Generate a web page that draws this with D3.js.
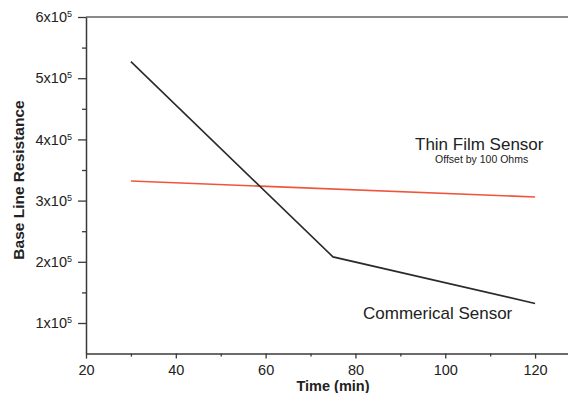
<!DOCTYPE html>
<html>
<head>
<meta charset="utf-8">
<script src="https://cdn.jsdelivr.net/npm/d3@7"></script>
<style>
  body { margin: 0; background: #fff; }
  svg { display: block; font-family: "Liberation Sans", Arial, sans-serif; }
  .axis .domain { stroke: #3a3a3a; stroke-width: 1.5px; }
  .axis line { stroke: #3a3a3a; stroke-width: 1.3px; }
  .axis text { fill: #222; font-size: 14.5px; }
</style>
</head>
<body>
<div id="chart"></div>
<script>
// data
const commercialTime = [30, 75, 120];
const commercialOhms = [5.27e5, 2.08e5, 1.32e5];
const thinFilmTime = [30, 120];
const thinFilmOhms = [3.32e5, 3.06e5];

const xTicks = [20, 40, 60, 80, 100, 120];
const xMinor = [30, 50, 70, 90, 110];
const yTicks = [1e5, 2e5, 3e5, 4e5, 5e5, 6e5];
const yMinor = [1.5e5, 2.5e5, 3.5e5, 4.5e5, 5.5e5];

const W = 568, H = 393;

// plot box: left edge at x=87, bottom at y=353, top at y=17 (right side runs off the image)
let x = d3.scaleLinear().domain([20, 128]).range([86, 571]);
let y = d3.scaleLinear().domain([0.5e5, 6e5]).range([353.6, 17]);

let svg = d3.select("#chart").append("svg")
  .attr("width", W)
  .attr("height", H);

// top frame line
svg.append("line")
  .attr("x1", x(20)).attr("x2", W)
  .attr("y1", y(6e5)).attr("y2", y(6e5))
  .attr("stroke", "#8a8a8a")
  .attr("stroke-width", 1.8);

// minor ticks first so major axis draws over them
svg.append("g")
  .attr("class", "axis")
  .attr("transform", "translate(0," + y(0.5e5) + ")")
  .call(d3.axisBottom(x).tickValues(xMinor).tickSize(3).tickFormat(""))
  .select(".domain").remove();

svg.append("g")
  .attr("class", "axis")
  .attr("transform", "translate(" + x(20) + ",0)")
  .call(d3.axisLeft(y).tickValues(yMinor).tickSize(4).tickFormat(""))
  .select(".domain").remove();

let xAxis = svg.append("g")
  .attr("class", "axis")
  .attr("transform", "translate(0," + y(0.5e5) + ")")
  .call(d3.axisBottom(x).tickValues(xTicks).tickSize(5).tickSizeOuter(0).tickPadding(6));

let yAxis = svg.append("g")
  .attr("class", "axis")
  .attr("transform", "translate(" + x(20) + ",0)")
  .call(d3.axisLeft(y).tickValues(yTicks).tickSize(8).tickSizeOuter(0).tickPadding(6));

// "Nx10^5" labels with superscript
yAxis.selectAll(".tick text")
  .text(null)
  .each(function (d) {
    let t = d3.select(this);
    t.append("tspan").text((d / 1e5) + "x10");
    t.append("tspan").attr("font-size", "9px").attr("dy", "-0.55em").text("5");
  });

// series
let line = d3.line()
  .x(d => x(d[0]))
  .y(d => y(d[1]));

svg.append("path")
  .datum(thinFilmTime.map((t, i) => [t, thinFilmOhms[i]]))
  .attr("fill", "none")
  .attr("stroke", "#f0553a")
  .attr("stroke-width", 1.6)
  .attr("d", line);

svg.append("path")
  .datum(commercialTime.map((t, i) => [t, commercialOhms[i]]))
  .attr("fill", "none")
  .attr("stroke", "#2a2a2a")
  .attr("stroke-width", 1.6)
  .attr("d", line);

// annotations
svg.append("text")
  .attr("x", 415).attr("y", 150)
  .attr("font-size", "17px").attr("fill", "#222")
  .text("Thin Film Sensor");

svg.append("text")
  .attr("x", 435).attr("y", 162.5)
  .attr("font-size", "10.5px").attr("fill", "#222")
  .text("Offset by 100 Ohms");

svg.append("text")
  .attr("x", 363).attr("y", 319)
  .attr("font-size", "17px").attr("fill", "#222")
  .text("Commerical Sensor");

// axis titles
svg.append("text")
  .attr("x", 333).attr("y", 390.5)
  .attr("text-anchor", "middle")
  .attr("font-size", "14.5px").attr("font-weight", "bold").attr("fill", "#222")
  .text("Time (min)");

svg.append("text")
  .attr("transform", "translate(24,180) rotate(-90)")
  .attr("text-anchor", "middle")
  .attr("font-size", "15.5px").attr("font-weight", "bold").attr("fill", "#222")
  .text("Base Line Resistance");
</script>
</body>
</html>
